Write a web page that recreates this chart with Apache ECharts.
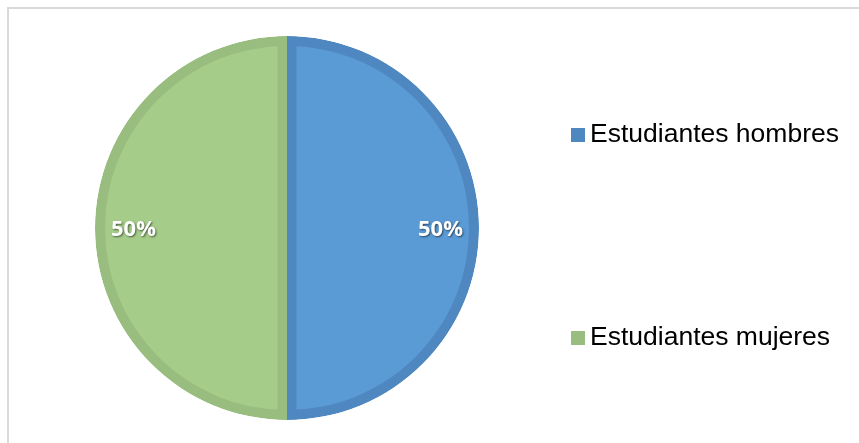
<!DOCTYPE html>
<html>
<head>
<meta charset="utf-8">
<script src="https://cdn.jsdelivr.net/npm/echarts@6/dist/echarts.min.js"></script>
<style>
  html, body { margin: 0; padding: 0; background: #fff; }
  #frame { position: absolute; left: 7px; top: 7px; width: 900px; height: 500px;
           border-left: 2px solid #d9d9d9; border-top: 2px solid #d9d9d9; }
  #chart { position: absolute; left: 0; top: 0; width: 859px; height: 443px; }
</style>
</head>
<body>
<div id="frame"></div>
<div id="chart"></div>
<script>
// Students by sex
const categories = ['Estudiantes hombres', 'Estudiantes mujeres'];
const values = [50, 50];

// fill and edge tones for each slice
const fillColors = ['#5b9bd5', '#a5cd89'];
const edgeColors = ['#4f88c0', '#98bd7e'];

const CX = 287, CY = 228;   // pie centre
const R_OUT = 192;          // outer edge
const EDGE = 9.5;           // width of the inner edge band

function slices(styleFor) {
  return categories.map((name, i) => ({ name, value: values[i], itemStyle: styleFor(i) }));
}

// edge band along the dividing diameter: one slice stroked, centre nudged to its own side
function dividerSeries(idx, dir) {
  return {
    type: 'pie', silent: true, startAngle: 90, clockwise: true,
    center: [CX + dir * EDGE / 2, CY], radius: 200,
    label: { show: false }, labelLine: { show: false }, emphasis: { disabled: true },
    data: slices(i => i === idx
      ? { color: 'rgba(0,0,0,0)', borderColor: edgeColors[i], borderWidth: EDGE }
      : { color: 'rgba(0,0,0,0)', borderWidth: 0 })
  };
}

const chart = echarts.init(document.getElementById('chart'), null, { renderer: 'canvas' });
chart.setOption({
  animation: false,
  backgroundColor: 'transparent',
  legend: {
    orient: 'vertical', left: 571, top: 121, padding: 0,
    itemWidth: 14, itemHeight: 14, itemGap: 175, icon: 'rect',
    data: categories,
    textStyle: { fontFamily: 'Liberation Sans, Arial, sans-serif', fontSize: 26.5, lineHeight: 28, color: '#000' }
  },
  series: [
    { // darker rim
      type: 'pie', startAngle: 90, clockwise: true, center: [CX, CY], radius: R_OUT,
      label: { show: false }, labelLine: { show: false }, emphasis: { disabled: true },
      data: slices(i => ({ color: edgeColors[i], borderWidth: 0 }))
    },
    { // lighter body
      type: 'pie', silent: true, startAngle: 90, clockwise: true, center: [CX, CY], radius: R_OUT - 10,
      label: { show: false }, labelLine: { show: false }, emphasis: { disabled: true },
      data: slices(i => ({ color: fillColors[i], borderWidth: 0 }))
    },
    dividerSeries(0, 1),
    dividerSeries(1, -1),
    { // trims the divider strokes to the pie outline
      type: 'pie', silent: true, center: [CX, CY], radius: [R_OUT, 214],
      label: { show: false }, labelLine: { show: false }, emphasis: { disabled: true },
      data: [{ value: 1, itemStyle: { color: '#ffffff', borderWidth: 0 } }]
    },
    { // percentage labels
      type: 'pie', silent: true, startAngle: 90, clockwise: true, center: [CX, CY], radius: 301,
      avoidLabelOverlap: false, emphasis: { disabled: true },
      labelLine: { show: false },
      labelLayout: { dy: 2 },
      label: {
        show: true, position: 'inside', formatter: '{d}%',
        color: '#fff', fontFamily: 'Open Sans, sans-serif', fontWeight: 'bold', fontSize: 22,
        textShadowColor: 'rgba(0,0,0,0.55)', textShadowBlur: 2, textShadowOffsetX: 1, textShadowOffsetY: 1
      },
      data: slices(() => ({ color: 'rgba(0,0,0,0)', borderWidth: 0 }))
    }
  ]
});
</script>
</body>
</html>
